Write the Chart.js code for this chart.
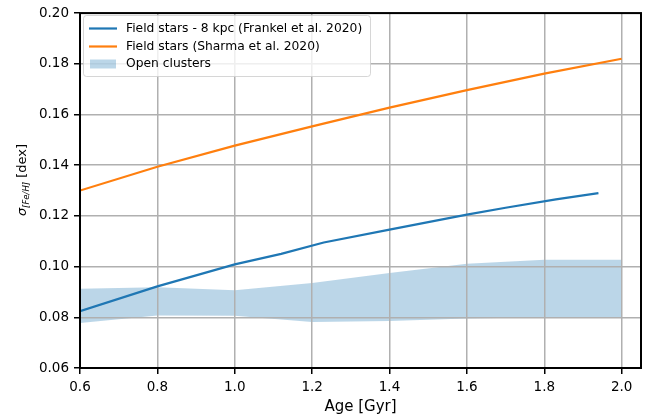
<!DOCTYPE html>
<html>
<head>
<meta charset="utf-8">
<script src="https://cdn.jsdelivr.net/npm/chart.js@4/dist/chart.umd.min.js"></script>
<style>
  html, body { margin: 0; padding: 0; background: #fff; }
</style>
</head>
<body>
<canvas id="myChart" width="650" height="418"></canvas>
<script>
// ages (Gyr) on the 0.2 grid, used by the Sharma curve and the cluster band
const ages = [0.6, 0.8, 1.0, 1.2, 1.4, 1.6, 1.8, 2.0];
const sharmaSigma = [0.1300, 0.1394, 0.1477, 0.1553, 0.1627, 0.1696, 0.1761, 0.1820];
const clusterLow = [0.0778, 0.0807, 0.0806, 0.0781, 0.0785, 0.0795, 0.0800, 0.0801];
const clusterHigh = [0.0913, 0.0919, 0.0907, 0.0935, 0.0975, 0.1011, 0.1027, 0.1027];

// Frankel curve stops a bit short of 2 Gyr
const frankelAges = [0.6, 0.8, 1.0, 1.12, 1.23, 1.4, 1.6, 1.7, 1.83, 1.94];
const frankelSigma = [0.0824, 0.0922, 0.1009, 0.1050, 0.1095, 0.1146, 0.1205, 0.1232, 0.1265, 0.1290];

const xTicks = [0.6, 0.8, 1.0, 1.2, 1.4, 1.6, 1.8, 2.0];
const yTicks = [0.06, 0.08, 0.10, 0.12, 0.14, 0.16, 0.18, 0.20];

const legendLabels = [
  "Field stars - 8 kpc (Frankel et al. 2020)",
  "Field stars (Sharma et al. 2020)",
  "Open clusters"
];

const blue = "#1f77b4";
const orange = "#ff7f0e";
const band = "rgba(31, 119, 180, 0.3)";
const font = '"DejaVu Sans", sans-serif';

function pairs(xs, ys) {
  return xs.map((x, i) => ({ x: x, y: ys[i] }));
}

// frame, axis titles and legend box (matplotlib style)
const decorations = {
  id: "decorations",
  afterDraw(chart) {
    const ctx = chart.ctx;
    const a = chart.chartArea;
    ctx.save();

    ctx.strokeStyle = "#000";
    ctx.lineWidth = 2;
    ctx.strokeRect(a.left, a.top, a.right - a.left, a.bottom - a.top);

    ctx.fillStyle = "#000";
    ctx.font = "15px " + font;
    ctx.textAlign = "center";
    ctx.textBaseline = "alphabetic";
    ctx.fillText("Age [Gyr]", (a.left + a.right) / 2, 411);

    // y title: sigma with subscript [Fe/H]
    ctx.save();
    ctx.translate(26, 180);
    ctx.rotate(-Math.PI / 2);
    ctx.textAlign = "left";
    ctx.font = "italic 13px " + font;
    const wS = ctx.measureText("σ").width;
    ctx.font = "italic 8.5px " + font;
    const wSub = ctx.measureText("[Fe/H]").width;
    ctx.font = "13px " + font;
    const wD = ctx.measureText(" [dex]").width;
    let x0 = -(wS + wSub + wD) / 2;
    ctx.font = "italic 13px " + font;
    ctx.fillText("σ", x0, 0);
    ctx.font = "italic 8.5px " + font;
    ctx.fillText("[Fe/H]", x0 + wS, 3);
    ctx.font = "13px " + font;
    ctx.fillText(" [dex]", x0 + wS + wSub, 0);
    ctx.restore();

    // legend
    ctx.beginPath();
    ctx.roundRect(83.5, 15.5, 287, 61, 3);
    ctx.fillStyle = "rgba(255,255,255,0.8)";
    ctx.fill();
    ctx.strokeStyle = "rgba(204,204,204,0.8)";
    ctx.lineWidth = 1;
    ctx.stroke();

    const rows = [28.5, 46.5, 64];
    ctx.lineWidth = 2.2;
    [blue, orange].forEach((c, i) => {
      ctx.strokeStyle = c;
      ctx.beginPath();
      ctx.moveTo(89, rows[i]);
      ctx.lineTo(117, rows[i]);
      ctx.stroke();
    });
    ctx.fillStyle = band;
    ctx.fillRect(90, rows[2] - 4.5, 26, 9);

    ctx.fillStyle = "#000";
    ctx.font = "12.3px " + font;
    ctx.textAlign = "left";
    ctx.textBaseline = "middle";
    legendLabels.forEach((t, i) => ctx.fillText(t, 126, rows[i]));

    ctx.restore();
  }
};

const ctx = document.getElementById("myChart").getContext("2d");

const chart = new Chart(ctx, {
  type: "line",
  data: {
    datasets: [
      {
        label: legendLabels[0],
        data: pairs(frankelAges, frankelSigma),
        borderColor: blue,
        borderWidth: 2.2,
        pointRadius: 0,
        fill: false
      },
      {
        label: legendLabels[1],
        data: pairs(ages, sharmaSigma),
        borderColor: orange,
        borderWidth: 2.2,
        pointRadius: 0,
        fill: false
      },
      {
        label: "clusters low",
        data: pairs(ages, clusterLow),
        borderWidth: 0,
        borderColor: "rgba(0,0,0,0)",
        pointRadius: 0,
        fill: false
      },
      {
        label: legendLabels[2],
        data: pairs(ages, clusterHigh),
        borderWidth: 0,
        borderColor: "rgba(0,0,0,0)",
        backgroundColor: band,
        pointRadius: 0,
        fill: "-1"
      }
    ]
  },
  options: {
    responsive: false,
    animation: false,
    devicePixelRatio: 1,
    layout: { padding: { top: 12, right: 9, left: 0, bottom: 0 } },
    plugins: {
      legend: { display: false },
      tooltip: { enabled: false },
      filler: { drawTime: "beforeDraw" } // band sits under the grid
    },
    scales: {
      x: {
        type: "linear",
        min: 0.6,
        max: 2.05,
        afterBuildTicks: s => { s.ticks = xTicks.map(v => ({ value: v })); },
        afterFit: s => { s.height = 50; },
        border: { display: false },
        grid: { color: "#b0b0b0", lineWidth: 1.5, tickLength: 6, tickColor: "#000", tickWidth: 1.5 },
        ticks: {
          padding: 5,
          color: "#000",
          font: { family: font, size: 13.5 },
          maxRotation: 0,
          callback: v => v.toFixed(1)
        }
      },
      y: {
        min: 0.06,
        max: 0.20,
        afterBuildTicks: s => { s.ticks = yTicks.map(v => ({ value: v })); },
        afterFit: s => { s.width = 80; },
        border: { display: false },
        grid: { color: "#b0b0b0", lineWidth: 1.5, tickLength: 6, tickColor: "#000", tickWidth: 1.5 },
        ticks: {
          padding: 5,
          color: "#000",
          font: { family: font, size: 13.5 },
          callback: v => v.toFixed(2)
        }
      }
    }
  },
  plugins: [decorations]
});
</script>
</body>
</html>
